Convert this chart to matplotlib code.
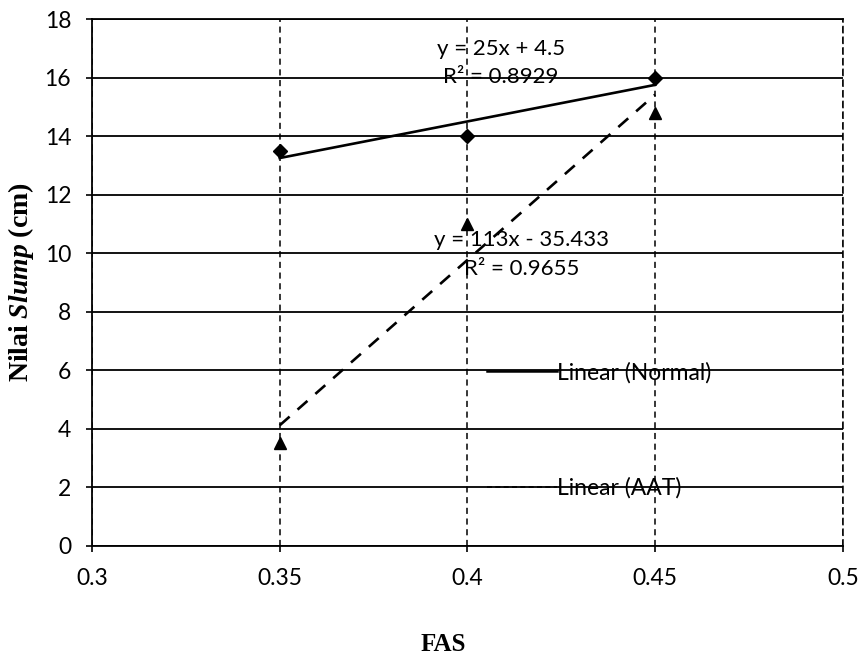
import numpy as np
import matplotlib
matplotlib.use("Agg")
import matplotlib.pyplot as plt
from matplotlib.lines import Line2D

# data
fas = [0.35, 0.40, 0.45]
slump_normal = [13.5, 14.0, 16.0]
slump_aat = [3.5, 11.0, 14.8]
x_ticks = [0.3, 0.35, 0.4, 0.45, 0.5]
x_ticklabels = ["0.3", "0.35", "0.4", "0.45", "0.5"]
y_ticks = [0, 2, 4, 6, 8, 10, 12, 14, 16, 18]
eq_normal = "y = 25x + 4.5\nR² = 0.8929"
eq_aat = "y = 113x - 35.433\nR² = 0.9655"
legend_labels = ["Linear (Normal)", "Linear (AAT)"]

plt.rcParams['mathtext.fontset'] = 'custom'
plt.rcParams['mathtext.rm'] = 'Liberation Serif:bold'
plt.rcParams['mathtext.it'] = 'Liberation Serif:italic:bold'
plt.rcParams['mathtext.bf'] = 'Liberation Serif:bold'

FS = 16.5

fig = plt.figure(figsize=(8.6, 6.56), dpi=100)
ax = fig.add_axes([0.107, 0.168, 0.873, 0.803])

tick_font = dict(family="Lato", size=FS)

# gridlines
for yv in y_ticks:
    ax.axhline(yv, color="black", lw=1.3, zorder=1)
for xv in x_ticks:
    ax.axvline(xv, color="black", lw=1.1, ls=(0, (4, 3)), zorder=1)

# data points
ax.plot(fas, slump_normal, ls="none", marker="D", ms=7, color="black", zorder=4)
ax.plot(fas, slump_aat, ls="none", marker="^", ms=8.5, color="black", zorder=4)

# trendlines
xf = np.array([fas[0], fas[-1]])
pn = np.polyfit(fas, slump_normal, 1)
pa = np.polyfit(fas, slump_aat, 1)
ax.plot(xf, np.polyval(pn, xf), color="black", lw=1.9, zorder=3)
ax.plot(xf, np.polyval(pa, xf), color="black", lw=1.9, ls=(0, (5, 4)), zorder=3)

# equations
ax.text(0.4089, 16.5, eq_normal, ha="center", va="center", multialignment="center",
        fontsize=FS - 0.5, family="Lato", linespacing=1.55, zorder=5)
ax.text(0.4144, 9.94, eq_aat, ha="center", va="center", multialignment="center",
        fontsize=FS - 0.5, family="Lato", linespacing=1.55, zorder=5)

ax.set_xlim(0.3, 0.5)
ax.set_ylim(0, 18)
ax.set_xticks(x_ticks)
ax.set_xticklabels(x_ticklabels, **tick_font)
ax.set_yticks(y_ticks)
ax.set_yticklabels([str(v) for v in y_ticks], **tick_font)
ax.tick_params(axis="both", length=4, width=1.2, color="black", direction="out")
ax.tick_params(axis="y", pad=11)
ax.tick_params(axis="x", pad=12)

for s in ["left", "top", "bottom"]:
    ax.spines[s].set_linewidth(1.3)
ax.spines["right"].set_linestyle((0, (4, 3)))
ax.spines["right"].set_linewidth(1.1)

ax.set_ylabel(r"Nilai $\mathit{Slump}$ (cm)", family="Liberation Serif",
              fontweight="bold", fontsize=20)
ax.yaxis.set_label_coords(-0.0745, 0.5)
ax.set_xlabel("FAS", family="Liberation Serif", fontweight="bold", fontsize=18)
ax.xaxis.set_label_coords((443 - 92) / 751, -0.166)

handles = [Line2D([0], [0], color="black", lw=1.8),
           Line2D([0], [0], color="black", lw=1.2, ls=(0, (3, 2)))]
leg = ax.legend(handles, legend_labels, loc="upper left", bbox_to_anchor=(0.526, 0.349),
                frameon=False, prop=dict(family="Lato", size=FS), labelspacing=4.1,
                handlelength=3.06, handletextpad=0.0, borderpad=0, borderaxespad=0)

fig.savefig("out.png", dpi=100, facecolor="white")
